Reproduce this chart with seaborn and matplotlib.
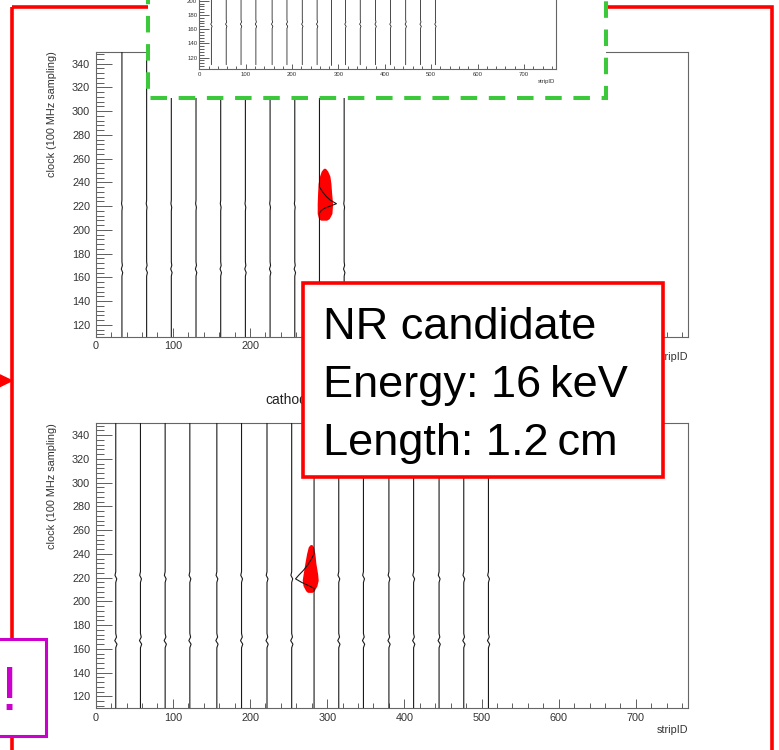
import matplotlib
matplotlib.use("Agg")
import matplotlib.pyplot as plt
import pandas as pd
import seaborn as sns
from matplotlib.patches import Polygon, Rectangle
from matplotlib.ticker import FixedLocator, MultipleLocator

W, H = 779, 750

# stripIDs of the drawn waveforms
top_strips = [34, 66, 98, 130, 162, 194, 226, 258, 290, 322]
bottom_strips = [26, 58, 90, 122, 157, 189, 222, 254, 283, 315, 347, 380, 412, 445, 477, 509]

# small common-mode wiggles on the baselines (clock, offset in strips)
wiggle_clock = [110, 161, 164, 167, 170, 173, 216, 219, 222, 225, 350]
wiggle_top = [0, 0, 1.0, -0.8, 0.6, 0, 0, 0.5, -0.5, 0, 0]
wiggle_bottom = [0, 0, 1.6, -1.3, 1.0, 0, 0, 1.3, -1.0, 0, 0]

# signal pulses
top_pulse_strip = 290
top_pulse_clock = [110, 214, 216, 218, 220, 222, 225, 228, 232, 236, 350]
top_pulse_amp = [0, 0, 2, 6, 14, 22, 14, 9, 4, 0, 0]
bottom_pulse_strip = 283
bottom_pulse_clock = [110, 211, 213, 216, 219, 222, 226, 230, 235, 240, 350]
bottom_pulse_amp = [0, 0, -6, -16, -24, -20, -14, -9, -4, 0, 0]

# red hit clusters (clock, left / right edge in strips)
top_blob_clock = [209, 210, 214, 222, 231, 239, 245, 249, 251]
top_blob_left = [292, 290, 288.4, 288.4, 288.9, 289.6, 291.4, 293.5, 296]
top_blob_right = [299, 301.5, 304.8, 305.7, 304.4, 303.5, 302.2, 299.5, 297]
bottom_blob_clock = [208.5, 209.5, 213.5, 218, 223, 232, 240, 245.5, 247]
bottom_blob_left = [275, 273.3, 270, 269, 270.2, 272.4, 274.6, 276.7, 278.5]
bottom_blob_right = [280, 282, 285.4, 287, 286.3, 284, 282.8, 281, 279.5]

info_lines = ["NR candidate", "Energy: 16\u2009keV", "Length: 1.2\u2009cm"]

sns.set_theme(style="white")
plt.rcParams["font.family"] = ["Liberation Sans", "DejaVu Sans"]


def waveforms(strips, wiggle, pulse_strip, pulse_clock, pulse_amp):
    rows = []
    for s in strips:
        clk, amp = (pulse_clock, pulse_amp) if s == pulse_strip else (wiggle_clock, wiggle)
        for c, a in zip(clk, amp):
            rows.append({"strip": s, "clock": c, "pos": s + a})
    return pd.DataFrame(rows)


def frac(x0, y0, x1, y1):
    # pixel box (top-left origin) -> figure fraction rect
    return [x0 / W, 1 - y1 / H, (x1 - x0) / W, (y1 - y0) / H]


def style_axis(ax, fs, scale, xpad, ypad, xlabelpad, ymin=110):
    ax.set_xlim(0, 768)
    ax.set_ylim(ymin, 350)
    ax.xaxis.set_major_locator(MultipleLocator(100))
    ax.xaxis.set_minor_locator(MultipleLocator(20))
    ax.yaxis.set_major_locator(MultipleLocator(20))
    ax.yaxis.set_minor_locator(MultipleLocator(4))
    ax.tick_params(axis="both", which="both", direction="in", width=0.6,
                   bottom=True, left=True, top=False, right=False,
                   color="#444444", labelcolor="#333333", labelsize=fs)
    ax.tick_params(axis="y", which="major", length=11.5 * scale, pad=ypad)
    ax.tick_params(axis="y", which="minor", length=5.8 * scale)
    ax.tick_params(axis="x", which="major", length=6.5 * scale, pad=xpad)
    ax.tick_params(axis="x", which="minor", length=3.3 * scale)
    for sp in ax.spines.values():
        sp.set_color("#666666")
        sp.set_linewidth(0.8)
    ax.set_xlabel("stripID", loc="right", fontsize=fs, color="#333333", labelpad=xlabelpad)
    ax.set_ylabel("")
    ax.set_facecolor("white")


def draw_panel(ax, df, blob, scale=1.0):
    if blob is not None:
        ax.fill_betweenx(blob[0], blob[1], blob[2], color="red", lw=1.5, ec="red",
                         joinstyle="round", zorder=3)
    sns.lineplot(data=df, x="pos", y="clock", units="strip", estimator=None,
                 orient="y", sort=True, color="#1a1a1a", lw=0.8 * scale,
                 legend=False, ax=ax, zorder=4)


fig = plt.figure(figsize=(W / 100, H / 100), dpi=100)

df_top = waveforms(top_strips, wiggle_top, top_pulse_strip, top_pulse_clock, top_pulse_amp)
df_bot = waveforms(bottom_strips, wiggle_bottom, bottom_pulse_strip, bottom_pulse_clock, bottom_pulse_amp)

ax_top = fig.add_axes(frac(95.7, 51.7, 688.3, 336.7))
ax_bot = fig.add_axes(frac(95.7, 423.3, 688.3, 708.3))
for ax, df, blob, xlp in [
    (ax_top, df_top, (top_blob_clock, top_blob_left, top_blob_right), 0.5),
    (ax_bot, df_bot, (bottom_blob_clock, bottom_blob_left, bottom_blob_right), 1.5),
]:
    draw_panel(ax, df, blob)
    style_axis(ax, 7.8, 1.0, 3.3, 4.0, xlp)
    ax.set_ylabel("clock (100 MHz sampling)", loc="top", fontsize=7.8,
                  color="#333333", labelpad=11)
    ax.set_zorder(1)

# slide decorations below the inset
can1 = fig.add_axes([0, 0, 1, 1])
can1.set_xlim(0, W)
can1.set_ylim(H, 0)
can1.axis("off")
can1.set_zorder(2)
can1.add_patch(Rectangle((12, 7), 760, 800, fill=False, ec="#ff0000", lw=2.6))
can1.add_patch(Polygon([(-3, 373.5), (12, 380.7), (-3, 388)], closed=True, color="#ff0000"))
can1.add_patch(Rectangle((148.3, -20), 606 - 148.3, 117.7, fc="white", ec="#3bc83b",
                         lw=2.9, ls=(0, (4.1, 2.9))))
can1.text(265, 400, "cathode", fontsize=10, color="#222222", ha="left", va="center")

# cropped inset of the same event (only its lower part is on the slide)
ax_ins = fig.add_axes(frac(199.3, -106, 555.5, 69))
draw_panel(ax_ins, df_bot, None, scale=0.7)
style_axis(ax_ins, 4.3, 0.6, 1.8, 1.5, 1.5, ymin=104)
ax_ins.yaxis.set_major_locator(FixedLocator([120, 140, 160, 180, 200]))
ax_ins.set_zorder(3)

# annotations on top
can2 = fig.add_axes([0, 0, 1, 1])
can2.set_xlim(0, W)
can2.set_ylim(H, 0)
can2.axis("off")
can2.set_zorder(4)
can2.add_patch(Rectangle((302.7, 283.3), 360.3, 193.4, fc="white", ec="#ff0000", lw=2.6))
for i, line in enumerate(info_lines):
    can2.text(323.3, 339 + 58 * i, line, fontsize=32.5, color="black",
              ha="left", va="baseline")
can2.add_patch(Rectangle((-20, 639), 66, 97, fc="white", ec="#cc00cc", lw=2.2))
can2.text(9.5, 710, "!", fontsize=45, color="#cc00cc", ha="center", va="baseline")

fig.savefig("out.png", dpi=100)
